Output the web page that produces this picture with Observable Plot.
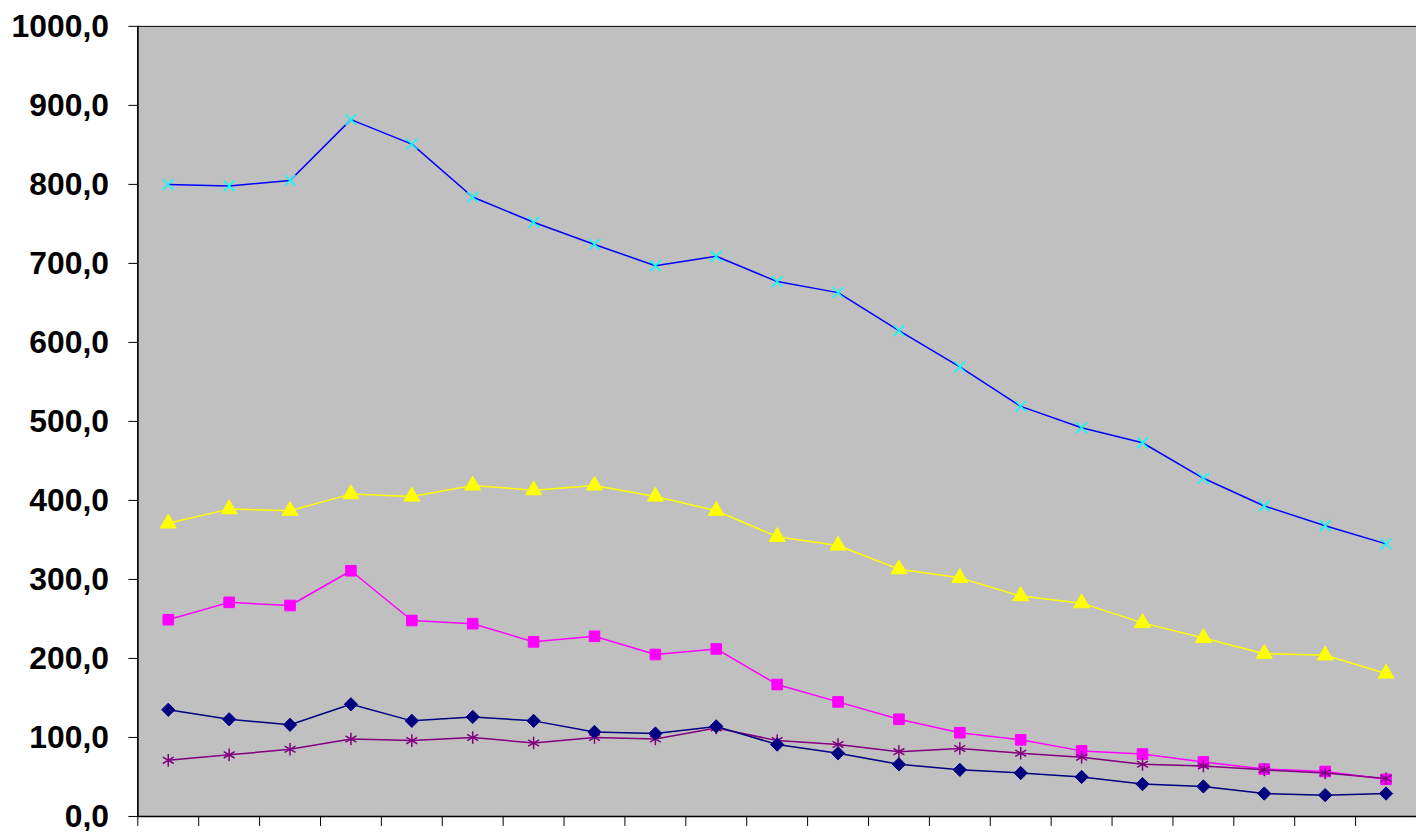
<!DOCTYPE html>
<html>
<head>
<meta charset="utf-8">
<script src="https://cdn.jsdelivr.net/npm/d3@7"></script>
<script src="https://cdn.jsdelivr.net/npm/@observablehq/plot@0.6"></script>
<style>
  body { margin: 0; background: #fff; overflow: hidden; }
  #chart svg text { font-size: 32px; font-weight: bold; font-family: "Liberation Sans", Arial, sans-serif; }
</style>
</head>
<body>
<div id="chart"></div>
<script>
const idx = d3.range(1, 22);

const seriesBlue = [800, 798, 805, 882, 851, 784, 752, 724, 697, 709, 677, 663, 615, 569, 519, 492, 473, 428, 393, 368, 345];
const seriesYellow = [371, 389, 387, 408, 405, 419, 413, 419, 405, 387, 354, 343, 313, 302, 279, 270, 245, 226, 206, 204, 181];
const seriesMagenta = [249, 271, 267, 311, 248, 244, 221, 228, 205, 212, 167, 145, 123, 106, 97, 83, 79, 69, 60, 57, 47];
const seriesNavy = [135, 123, 116, 142, 121, 126, 121, 107, 105, 114, 91, 80, 66, 59, 55, 50, 41, 38, 29, 27, 29];
const seriesPurple = [71, 78, 85, 98, 96, 100, 93, 100, 98, 112, 96, 91, 82, 86, 80, 75, 66, 64, 59, 55, 48];

const yTicks = d3.range(0, 1001, 100);
const xTicks = d3.range(0.5, 22, 1);

const rows = (vals) => vals.map((v, i) => ({x: idx[i], y: v}));

function series(vals, line, symbol, fill, stroke, r) {
  const d = rows(vals);
  return [
    Plot.line(d, {x: "x", y: "y", stroke: line, strokeWidth: 1.5}),
    Plot.dot(d, {x: "x", y: "y", symbol: symbol, r: r, fill: fill, stroke: stroke, strokeWidth: fill === "none" ? 1.5 : 1})
  ];
}

const chart = Plot.plot({
  width: 1423,
  height: 835,
  marginLeft: 138,
  marginRight: 0,
  marginTop: 26,
  marginBottom: 15,
  style: {background: "#fff"},
  x: {domain: [0.5, 21.5], axis: null},
  y: {domain: [0, 1000], axis: null},
  marks: [
    Plot.frame({fill: "#c0c0c0", stroke: "#000", strokeWidth: 1}),
    Plot.axisY({ticks: yTicks, tickFormat: d => d3.format(".1f")(d).replace(".", ","), tickSize: 9, tickPadding: 20, fill: "#000", stroke: "#000", label: null}),
    Plot.ruleY([0], {stroke: "#000", strokeWidth: 1.5}),
    Plot.ruleX([0.5], {stroke: "#000", strokeWidth: 1.5}),
    Plot.axisX({ticks: xTicks, tickFormat: () => "", tickSize: 10, stroke: "#000", label: null}),
    ...series(seriesBlue, "#0000ff", "times", "none", "#00ffff", 5),
    ...series(seriesYellow, "#ffff00", "triangle", "#ffff00", "#ffff00", 6),
    ...series(seriesMagenta, "#ff00ff", "square", "#ff00ff", "#ff00ff", 6),
    ...series(seriesPurple, "#800080", "asterisk", "none", "#800080", 6),
    ...series(seriesNavy, "#000080", "diamond2", "#000080", "#000080", 6)
  ]
});

d3.select("#chart").append(() => chart);
</script>
</body>
</html>
